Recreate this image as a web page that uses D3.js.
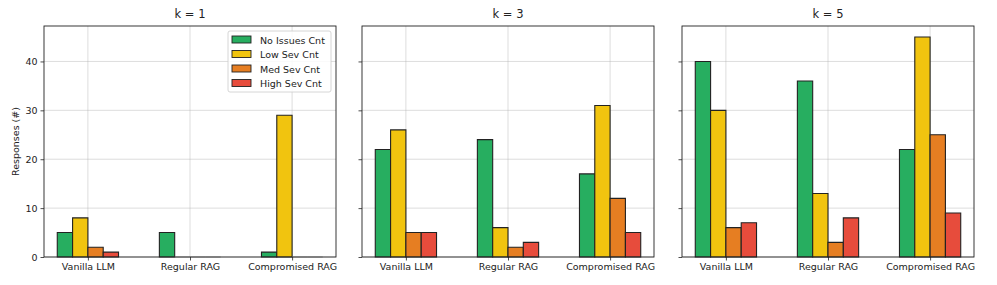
<!DOCTYPE html>
<html>
<head>
<meta charset="utf-8">
<script src="https://cdn.jsdelivr.net/npm/d3@7"></script>
<style>
  body { margin: 0; background: #fff; }
  text { font-family: "DejaVu Sans", sans-serif; fill: #222; }
</style>
</head>
<body>
<div id="chart"></div>
<script>
// grouped bars, three panels sharing y

var categories = ['Vanilla LLM', 'Regular RAG', 'Compromised RAG'];
var seriesNames = ['No Issues Cnt', 'Low Sev Cnt', 'Med Sev Cnt', 'High Sev Cnt'];
var panelTitles = ['k = 1', 'k = 3', 'k = 5'];
var yTicks = [0, 10, 20, 30, 40];

// one array per panel, rows = category, cols = series
var k1 = [[5, 8, 2, 1], [5, 0, 0, 0], [1, 29, 0, 0]];
var k3 = [[22, 26, 5, 5], [24, 6, 2, 3], [17, 31, 12, 5]];
var k5 = [[40, 30, 6, 7], [36, 13, 3, 8], [22, 45, 25, 9]];
var panels = [k1, k3, k5];

var colors = ['#27ae60', '#f1c40f', '#e67e22', '#e74c3c'];

var chart_width = 997;
var chart_height = 285;
var plotTop = 26, plotBottom = 257;
var panelLeft = [44, 362, 682];
var panelWidth = 292;
var barW = 0.15;

var svg = d3.select('#chart').append('svg')
  .attr('width', chart_width)
  .attr('height', chart_height);

var y_scale = d3.scaleLinear().domain([0, 47.25]).range([plotBottom, plotTop]);

panels.forEach(function(data, p) {
  var x0 = panelLeft[p];
  var x_scale = d3.scaleLinear().domain([-0.43, 2.43]).range([x0, x0 + panelWidth]);
  var g = svg.append('g');

  // grid
  g.selectAll('.hgrid').data(yTicks).enter().append('line')
    .attr('x1', x0).attr('x2', x0 + panelWidth)
    .attr('y1', function(d) { return y_scale(d); })
    .attr('y2', function(d) { return y_scale(d); })
    .attr('stroke', '#b0b0b0').attr('stroke-opacity', 0.55).attr('stroke-width', 0.8);
  g.selectAll('.vgrid').data(categories).enter().append('line')
    .attr('x1', function(d, i) { return x_scale(i); })
    .attr('x2', function(d, i) { return x_scale(i); })
    .attr('y1', plotTop).attr('y2', plotBottom)
    .attr('stroke', '#b0b0b0').attr('stroke-opacity', 0.55).attr('stroke-width', 0.8);

  // bars
  data.forEach(function(row, ci) {
    g.selectAll(null).data(row).enter().append('path')
      .attr('d', function(d, si) {
        var xl = x_scale(ci - 0.3 + si * barW);
        var xr = x_scale(ci - 0.3 + (si + 1) * barW);
        return 'M' + xl + ',' + y_scale(0) + 'V' + y_scale(d) + 'H' + xr + 'V' + y_scale(0) + 'Z';
      })
      .attr('fill', function(d, si) { return colors[si]; })
      .attr('stroke', function(d) { return d === 0 ? '#aaa' : '#222'; })
      .attr('stroke-width', 1.1);
  });

  // axes
  var xAxis = d3.axisBottom(x_scale).tickValues([0, 1, 2])
    .tickFormat(function(d) { return categories[d]; }).tickSize(3.5).tickPadding(3);
  g.append('g').attr('transform', 'translate(0,' + plotBottom + ')').call(xAxis);

  var yAxis = d3.axisLeft(y_scale).tickValues(yTicks).tickSize(3.5).tickPadding(3);
  if (p > 0) yAxis.tickFormat('');
  g.append('g').attr('transform', 'translate(' + x0 + ',0)').call(yAxis);

  g.selectAll('.domain').remove();
  g.selectAll('.tick line').attr('stroke', '#222').attr('stroke-width', 0.8);
  g.selectAll('.tick text').attr('font-size', '9.5px').attr('fill', '#222')
    .attr('font-family', 'DejaVu Sans');

  // frame
  g.append('rect')
    .attr('x', x0).attr('y', plotTop)
    .attr('width', panelWidth).attr('height', plotBottom - plotTop)
    .attr('fill', 'none').attr('stroke', '#222').attr('stroke-width', 0.9);

  g.append('text')
    .attr('x', x0 + panelWidth / 2).attr('y', plotTop - 8)
    .attr('text-anchor', 'middle').attr('font-size', '11.5px')
    .text(panelTitles[p]);
});

// y label
svg.append('text')
  .attr('transform', 'translate(19,' + ((plotTop + plotBottom) / 2) + ') rotate(-90)')
  .attr('text-anchor', 'middle').attr('font-size', '9.5px')
  .text('Responses (#)');

// legend
var lg = svg.append('g').attr('transform', 'translate(228,31)');
lg.append('rect').attr('width', 103).attr('height', 61).attr('rx', 2)
  .attr('fill', '#fff').attr('fill-opacity', 0.85)
  .attr('stroke', '#ccc').attr('stroke-width', 0.8);
var items = lg.selectAll('.item').data(seriesNames).enter().append('g')
  .attr('transform', function(d, i) { return 'translate(4,' + (5 + i * 14.5) + ')'; });
items.append('rect').attr('width', 19).attr('height', 7)
  .attr('fill', function(d, i) { return colors[i]; })
  .attr('stroke', '#222').attr('stroke-width', 0.9);
items.append('text').attr('x', 28).attr('y', 7.5)
  .attr('font-size', '9.5px').text(function(d) { return d; });
</script>
</body>
</html>
